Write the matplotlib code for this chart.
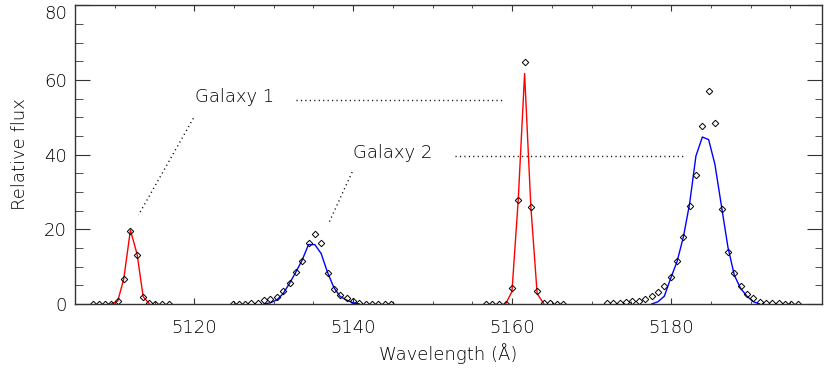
import numpy as np
import matplotlib
matplotlib.use('Agg')
import matplotlib.pyplot as plt
from matplotlib.ticker import MultipleLocator

# measured spectrum (diamonds)
wl_obs = [5107.24, 5107.99, 5108.74, 5109.55, 5110.38, 5111.13, 5111.97, 5112.81,
          5113.57, 5114.36, 5115.11, 5115.96, 5116.79,
          5124.87, 5125.67, 5126.42, 5127.18, 5127.97, 5128.77, 5129.56, 5130.40,
          5131.16, 5131.99, 5132.83, 5133.59, 5134.38, 5135.18, 5135.97, 5136.77,
          5137.57, 5138.36, 5139.20, 5139.99, 5140.79, 5141.58, 5142.38, 5143.17,
          5143.97, 5144.77,
          5156.67, 5157.50, 5158.34, 5159.18, 5159.98, 5160.77, 5161.57, 5162.36,
          5163.15, 5164.00, 5164.79, 5165.59, 5166.42,
          5171.95, 5172.70, 5173.55, 5174.39, 5175.14, 5175.97, 5176.78, 5177.57,
          5178.36, 5179.16, 5179.96, 5180.75, 5181.56, 5182.34, 5183.13, 5183.94,
          5184.73, 5185.52, 5186.36, 5187.16, 5187.96, 5188.75, 5189.54, 5190.35,
          5191.14, 5191.93, 5192.73, 5193.53, 5194.32, 5195.12, 5195.95]
flux_obs = [0, 0, 0, 0, 0.8, 6.7, 19.5, 13.1,
            1.8, 0.3, 0, 0, 0,
            0, 0, 0.1, 0.2, 0.35, 1.07, 1.34, 1.96,
            3.56, 5.5, 8.47, 11.6, 16.4, 18.8, 16.2, 8.2,
            4.0, 2.4, 1.5, 0.9, 0.36, 0, 0, 0,
            0, 0,
            0, 0, 0, 0, 4.2, 27.8, 64.7, 25.9,
            3.6, 0.3, 0.3, 0, 0,
            0.18, 0.18, 0.36, 0.45, 0.71, 0.89, 1.43, 2.14,
            3.21, 4.9, 7.13, 11.4, 17.8, 26.2, 34.6, 47.6,
            57.0, 48.4, 25.3, 13.9, 8.2, 4.9, 2.6, 1.5,
            0.6, 0.36, 0.18, 0.18, 0, 0, 0]

# Galaxy 1 fits (red)
wl_g1a = [5109.55, 5110.38, 5111.13, 5111.97, 5112.81, 5113.57, 5114.36]
fit_g1a = [0, 0.8, 6.7, 19.8, 13.3, 2.0, 0]
wl_g1b = [5159.18, 5159.98, 5160.77, 5161.57, 5162.36, 5163.15, 5164.00]
fit_g1b = [0, 3.3, 27.8, 61.7, 26.0, 2.8, 0]

# Galaxy 2 fits (blue)
wl_g2a = [5128.77, 5129.56, 5130.40, 5131.16, 5131.99, 5132.83, 5133.59, 5134.38,
          5135.18, 5135.97, 5136.77, 5137.57, 5138.36, 5139.20, 5139.99, 5140.79]
fit_g2a = [0, 0.3, 1.1, 2.7, 5.5, 8.7, 11.8, 15.9,
           15.9, 13.5, 8.5, 4.4, 2.0, 1.0, 0.35, 0]
wl_g2b = [5177.57, 5178.36, 5179.16, 5179.96, 5180.75, 5181.56, 5182.34, 5183.13,
          5183.94, 5184.73, 5185.52, 5186.36, 5187.16, 5187.96, 5188.75, 5189.54,
          5190.35, 5191.14]
fit_g2b = [0, 0.6, 2.1, 6.9, 11.3, 18.0, 26.9, 39.6,
           44.7, 44.0, 37.4, 26.0, 15.2, 7.7, 4.2, 2.1,
           0.6, 0]

yticks = [0, 20, 40, 60, 80]
xticks = [5120, 5140, 5160, 5180]

plt.rcParams['font.family'] = ['DejaVu Sans']
fig = plt.figure(figsize=(8.3, 3.68), dpi=100)
ax = fig.add_axes([0.0904, 0.174, 0.9, 0.812])

ax.plot(wl_g1a, fit_g1a, color='red', lw=1.0)
ax.plot(wl_g1b, fit_g1b, color='red', lw=1.0)
ax.plot(wl_g2a, fit_g2a, color='blue', lw=1.0)
ax.plot(wl_g2b, fit_g2b, color='blue', lw=1.0)
ax.plot(wl_obs, flux_obs, 'D', ms=3.3, mfc='none', mec='black', mew=0.7)

txtcol = 'black'
dots = (0, (0.8, 2.4))
ax.text(5120.04, 55.3, 'Galaxy 1', fontsize=13, va='center', ha='left',
        color=txtcol, fontweight='light')
ax.plot([5132.83, 5158.97], [54.5, 54.5], color='black', lw=1, ls=dots)
ax.plot([5119.89, 5112.98], [49.7, 23.8], color='black', lw=1, ls=dots)
ax.text(5140.0, 40.4, 'Galaxy 2', fontsize=13, va='center', ha='left',
        color=txtcol, fontweight='light')
ax.plot([5152.8, 5181.7], [39.6, 39.6], color='black', lw=1, ls=dots)
ax.plot([5139.87, 5136.98], [35.3, 21.9], color='black', lw=1, ls=dots)

ax.set_xlim(5105, 5199)
ax.set_ylim(0, 80)
ax.set_xticks(xticks)
ax.set_yticks(yticks)
ax.xaxis.set_minor_locator(MultipleLocator(5))
ax.yaxis.set_minor_locator(MultipleLocator(5))
ax.tick_params(axis='both', which='both', direction='in', top=True, right=True,
               labelsize=13, color='#333333', labelcolor=txtcol)
ax.tick_params(axis='y', which='major', length=10.8, pad=6)
ax.tick_params(axis='y', which='minor', length=5.4)
ax.tick_params(axis='x', which='major', length=4.3, pad=11)
ax.tick_params(axis='x', which='minor', length=2.2)
for s in ax.spines.values():
    s.set_color('#333333')
    s.set_linewidth(1.0)
for lab in ax.get_xticklabels() + ax.get_yticklabels():
    lab.set_fontweight('light')
ax.get_yticklabels()[-1].set_va('top')

ax.set_xlabel('Wavelength (Å)', fontsize=13, labelpad=4, color=txtcol,
              fontweight='light')
ax.set_ylabel('Relative flux', fontsize=13, labelpad=11, color=txtcol,
              fontweight='light')

fig.savefig('out.png', dpi=100)
